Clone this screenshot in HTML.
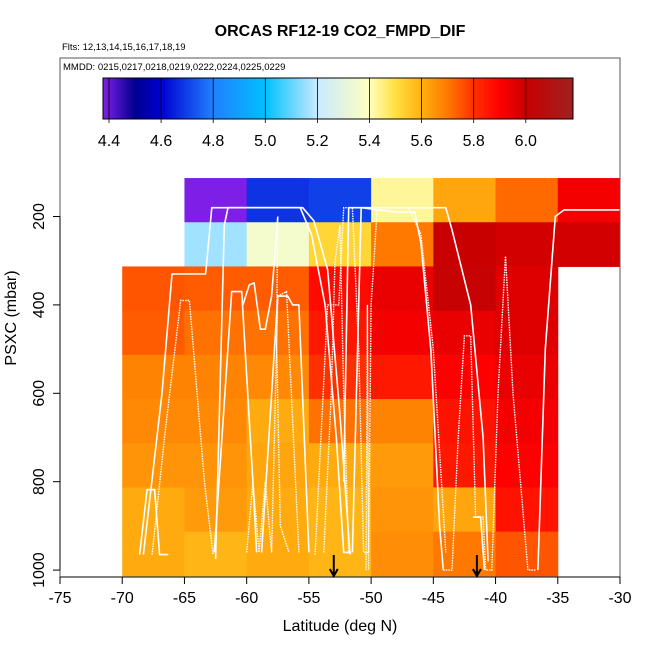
<!DOCTYPE html>
<html><head><meta charset="utf-8"><style>
body{margin:0;background:#fff}
svg{font-family:"Liberation Sans",sans-serif}
</style></head><body>
<svg id="chart" width="650" height="650" viewBox="0 0 650 650" xmlns="http://www.w3.org/2000/svg">
<text x="340" y="36" text-anchor="middle" font-size="16" font-weight="bold">ORCAS RF12-19 CO2_FMPD_DIF</text>
<text x="62" y="50" font-size="9.5">Flts: 12,13,14,15,16,17,18,19</text>
<g id="cells"></g>
<g id="tracks"></g>
<g id="arrows"></g>
<rect x="60" y="58" width="560" height="519" fill="none" stroke="#555" stroke-width="1"/>
<text x="63" y="70" font-size="9.5">MMDD: 0215,0217,0218,0219,0222,0224,0225,0229</text>
<defs><linearGradient id="cbg" x1="0" x2="1" y1="0" y2="0"></linearGradient></defs>
<g id="colorbar"></g>
<g id="xaxis"></g>
<g id="yaxis"></g>
<text x="340" y="631" text-anchor="middle" font-size="16">Latitude (deg N)</text>
<text transform="translate(16,318) rotate(-90)" text-anchor="middle" font-size="16">PSXC (mbar)</text>
</svg>
<script>
const latEdges = [-70,-65,-60,-55,-50,-45,-40,-35,-30];
const presEdges = [113,213,313,413,513,613,713,813,913,1013];
const cellValues = [
 [null,4.38,4.68,4.70,5.43,5.62,5.72,5.92],
 [null,5.16,5.36,5.52,5.70,6.00,5.98,5.98],
 [5.75,5.74,5.74,5.88,5.94,6.01,5.96,null],
 [5.74,5.71,5.71,5.85,5.92,5.94,5.96,null],
 [5.68,5.68,5.67,5.80,5.85,5.90,5.94,null],
 [5.67,5.67,5.61,5.71,5.68,5.86,5.92,null],
 [5.65,5.65,5.62,5.61,5.64,5.85,5.90,null],
 [5.61,5.64,5.61,5.59,5.65,5.62,5.86,null],
 [5.61,5.59,5.61,5.59,5.66,5.70,5.75,null]
];
const xTicks = [-75,-70,-65,-60,-55,-50,-45,-40,-35,-30];
const yTicks = [200,400,600,800,1000];
const cbTicks = [4.4,4.6,4.8,5.0,5.2,5.4,5.6,5.8,6.0];
const arrowLats = [-53,-41.5];
const trackSolid = [
 [[-68.6,965],[-68,818],[-67.4,818],[-67,965],[-66.3,965]],
 [[-68.3,965],[-66.8,600],[-66,330],[-63.3,330],[-62.8,180],[-55.5,180],[-54.6,210],[-53.5,320],[-52.5,650],[-51.7,965]],
 [[-62.5,975],[-61.8,220],[-61.5,180],[-55.7,180],[-54.8,240],[-53.7,400],[-52.8,700],[-52.2,960],[-51.6,960]],
 [[-62.6,960],[-61.2,370],[-60.4,370],[-59.5,800],[-59.2,960]],
 [[-58.8,960],[-57.5,380],[-56.7,380],[-56.3,400],[-55.8,400],[-55,960]],
 [[-60.3,400],[-59.8,355],[-59.4,350],[-58.9,455],[-58.5,455],[-58,380],[-57.5,200]],
 [[-52.2,800],[-51.8,180],[-49,180],[-44,180],[-43.5,230],[-42,400],[-41,700],[-40.6,980]],
 [[-51.5,960],[-51,400],[-50.8,180],[-48,190],[-46.5,190],[-46,260],[-45.2,500],[-44.5,900],[-44.2,1000]],
 [[-36.6,1000],[-36,500],[-35.2,200],[-34.5,185],[-30,185]],
 [[-41.8,880],[-41.2,880],[-40.9,1000]]
];
const trackDotted = [
 [[-67.6,965],[-66.6,700],[-65.3,390],[-64.6,390],[-63.4,800],[-62.7,965]],
 [[-60,960],[-59.5,800],[-59,960],[-58.5,800],[-58,960],[-57.5,380],[-56.8,370],[-55.8,960]],
 [[-57.5,200],[-57.6,480],[-57.3,900],[-56.6,960]],
 [[-54.5,965],[-53.5,400],[-52.6,400],[-52.2,180],[-51.5,180],[-51,500],[-50.6,960],[-50.2,960],[-50,400],[-49.5,180],[-46.5,180]],
 [[-53.8,960],[-53.2,600],[-52.9,300],[-52.5,220],[-52.2,600],[-51.8,960]],
 [[-50.4,1000],[-50.3,400],[-50.2,1000]],
 [[-47,180],[-46,240],[-45,500],[-44,960]],
 [[-44.2,1000],[-43.5,1000],[-43,700],[-42.5,470],[-42,470],[-41.6,880],[-41,880],[-40.8,1000],[-40.3,1000],[-39.8,600],[-39.2,290],[-38.6,600],[-37.4,1000],[-36.8,1000]]
];
const cmapVals = [4.377,4.5,4.6,4.8,5.0,5.2,5.4,5.5,5.6,5.7,5.8,5.9,6.0,6.18];
const cmapCols = ["#8020e8","#000090","#0000d0","#2080ff","#00c0ff","#c8eaff","#ffffc0","#ffe040","#ffb010","#ff7800","#ff3000","#ff0000","#c80000","#a02020"];

const NS="http://www.w3.org/2000/svg";
function X(lat){return 60+(lat+75)*560/45;}
function Y(p){return 216.5+(p-200)*0.442;}
function CBX(v){return 109+(v-4.4)*260.5;}
function hex(c){return [1,3,5].map(i=>parseInt(c.substr(i,2),16));}
function cmap(v){
 if(v<=cmapVals[0])return cmapCols[0];
 for(let i=1;i<cmapVals.length;i++){
  if(v<=cmapVals[i]){
   const t=(v-cmapVals[i-1])/(cmapVals[i]-cmapVals[i-1]);
   const a=hex(cmapCols[i-1]),b=hex(cmapCols[i]);
   return "rgb("+a.map((x,k)=>Math.round(x+(b[k]-x)*t)).join(",")+")";
  }
 }
 return cmapCols[cmapCols.length-1];
}
function mk(tag,attrs,parent){const e=document.createElementNS(NS,tag);for(const k in attrs)e.setAttribute(k,attrs[k]);parent.appendChild(e);return e;}

const cells=document.getElementById('cells');
for(let r=0;r<cellValues.length;r++){
 for(let c=0;c<cellValues[r].length;c++){
  const v=cellValues[r][c]; if(v===null)continue;
  const y0=Y(presEdges[r]), y1=Math.min(Y(presEdges[r+1]),577);
  const e=mk('rect',{x:X(latEdges[c]),y:y0,width:X(latEdges[c+1])-X(latEdges[c])+0.5,height:y1-y0+0.5,fill:cmap(v)},cells);
  
  
 }
}
const tracks=document.getElementById('tracks');
function pts(tr){return tr.map(p=>X(p[0]).toFixed(1)+","+Y(p[1]).toFixed(1)).join(" ");}
trackSolid.forEach(tr=>{
 const e=mk('polyline',{points:pts(tr),fill:'none',stroke:'#fff','stroke-width':1.6,'stroke-linejoin':'round'},tracks);
 
 
});
trackDotted.forEach(tr=>{
 const e=mk('polyline',{points:pts(tr),fill:'none',stroke:'#fff','stroke-width':1.4,'stroke-dasharray':'1.5 1'},tracks);
 
 
});
const arrows=document.getElementById('arrows');
arrowLats.forEach(l=>{
 const x=X(l);
 const e=mk('path',{d:`M${x},555 L${x},576 M${x-4},569 L${x},576 L${x+4},569`,stroke:'#000','stroke-width':2,fill:'none'},arrows);
 
 
});
const g=document.getElementById('cbg');
const x0=103,x1=573;
cmapVals.forEach((v,i)=>{mk('stop',{offset:((CBX(v)-x0)/(x1-x0)).toFixed(4),'stop-color':cmapCols[i]},g);});
const cb=document.getElementById('colorbar');
const bar=mk('rect',{x:x0,y:78,width:x1-x0,height:41,fill:'url(#cbg)',stroke:'#000','stroke-width':1},cb);


cbTicks.forEach(v=>{
 const x=CBX(v);
 mk('line',{x1:x,x2:x,y1:78,y2:123,stroke:'#000','stroke-width':0.8},cb);
 const t=mk('text',{x:x,y:146,'text-anchor':'middle','font-size':16},cb);
 t.textContent=v.toFixed(1);
 
 
});
const xa=document.getElementById('xaxis');
mk('line',{x1:X(-75),x2:X(-30),y1:577,y2:577,stroke:'#000'},xa);
xTicks.forEach(v=>{
 const x=X(v);
 mk('line',{x1:x,x2:x,y1:577,y2:584,stroke:'#000'},xa);
 const t=mk('text',{x:x,y:603,'text-anchor':'middle','font-size':16},xa);
 t.textContent=String(v);
 
 
});
const ya=document.getElementById('yaxis');
mk('line',{x1:60,x2:60,y1:Y(200),y2:Y(1000),stroke:'#000'},ya);
yTicks.forEach(v=>{
 const y=Y(v);
 mk('line',{x1:53,x2:60,y1:y,y2:y,stroke:'#000'},ya);
 const t=mk('text',{transform:`translate(44,${y}) rotate(-90)`,'text-anchor':'middle','font-size':16},ya);
 t.textContent=String(v);
 
 
});
</script>
</body></html>
